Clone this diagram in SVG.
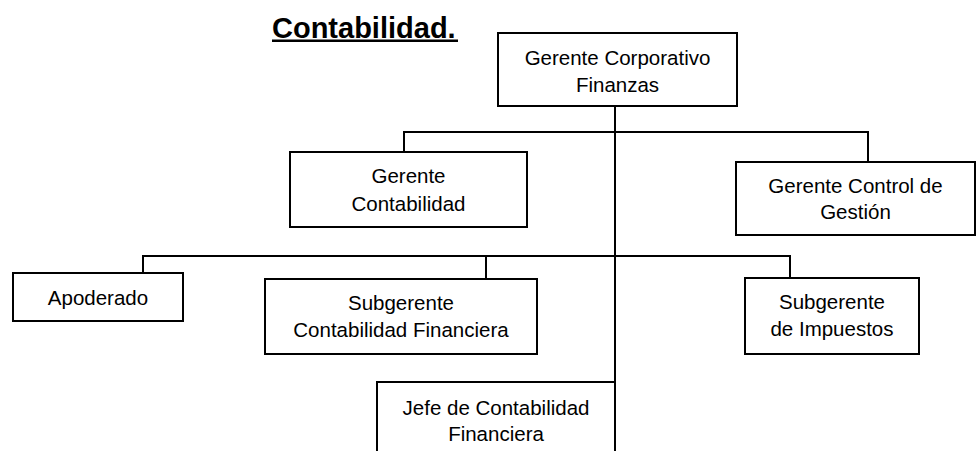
<svg xmlns="http://www.w3.org/2000/svg" width="976" height="451" viewBox="0 0 976 451">
<style>
.box{fill:#fff;stroke:#000;stroke-width:2}
.ln{fill:none;stroke:#000;stroke-width:2}
.t{font-family:"Liberation Sans",Arial,sans-serif;font-size:20.5px;fill:#000;text-anchor:middle}
.title{font-family:"Liberation Sans",Arial,sans-serif;font-size:29px;font-weight:bold;fill:#000}
</style>
<rect width="976" height="451" fill="#fff"/>
<text class="title" x="272" y="38">Contabilidad.</text>
<rect x="272" y="39.5" width="186" height="2.5" fill="#000"/>
<g id="connectors">
<path class="ln" d="M615,106 V451"/>
<path class="ln" d="M404,152 V132 H868 V162"/>
<path class="ln" d="M143,273 V256 H790 V278"/>
<path class="ln" d="M486,256 V279"/>
</g>
<g id="n-gerente-corporativo">
<rect class="box" x="498" y="33" width="239" height="73"/>
<text class="t" x="617.5" y="65">Gerente Corporativo</text>
<text class="t" x="617.5" y="92">Finanzas</text>
</g>
<g id="n-gerente-contabilidad">
<rect class="box" x="290" y="152" width="237" height="75"/>
<text class="t" x="408.5" y="183">Gerente</text>
<text class="t" x="408.5" y="211">Contabilidad</text>
</g>
<g id="n-gerente-control">
<rect class="box" x="736" y="162" width="239" height="73"/>
<text class="t" x="855.5" y="193">Gerente Control de</text>
<text class="t" x="855.5" y="219">Gestión</text>
</g>
<g id="n-apoderado">
<rect class="box" x="13" y="273" width="170" height="48"/>
<text class="t" x="98" y="305">Apoderado</text>
</g>
<g id="n-subgerente-contabilidad">
<rect class="box" x="265" y="279" width="272" height="75"/>
<text class="t" x="401" y="310">Subgerente</text>
<text class="t" x="401" y="337">Contabilidad Financiera</text>
</g>
<g id="n-subgerente-impuestos">
<rect class="box" x="745" y="278" width="174" height="76"/>
<text class="t" x="832" y="309">Subgerente</text>
<text class="t" x="832" y="336">de Impuestos</text>
</g>
<g id="n-jefe-contabilidad">
<rect class="box" x="377" y="382" width="238" height="80"/>
<text class="t" x="496" y="415">Jefe de Contabilidad</text>
<text class="t" x="496" y="441">Financiera</text>
</g>
</svg>
